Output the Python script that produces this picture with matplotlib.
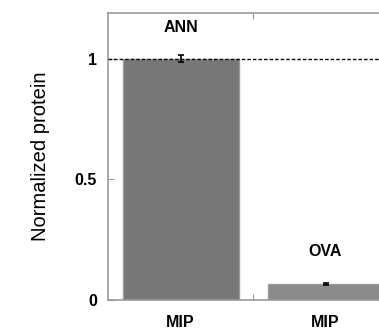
import matplotlib
matplotlib.use("Agg")
import matplotlib.pyplot as plt

groups = ["ANN", "OVA"]
xlabels = ["MIP", "MIP"]
values = [1.0, 0.066]
errors = [0.015, 0.004]

plt.rcParams['font.family'] = ['Liberation Sans', 'DejaVu Sans']

fig = plt.figure(figsize=(3.79, 3.34), dpi=100)
# axes runs past the right edge of the figure, as in the cropped original
ax = fig.add_axes([108/379, 34/334, 290/379, 287/334])

pos = [1, 2]
ax.bar(pos, values, width=0.8, color=['#777777', '#8a8a8a'],
       edgecolor='#9a9a9a', linewidth=1.0, zorder=2)
ax.errorbar(pos, values, yerr=errors, fmt='none', ecolor='black',
            elinewidth=1.2, capsize=2.5, capthick=1.2, zorder=3)
ax.axhline(1.0, color='black', linestyle=(0, (2.5, 1.5)), linewidth=1.0, zorder=4)

for p, g, v in zip(pos, groups, [1.13, 0.2]):
    ax.text(p, v, g, ha='center', va='center', fontsize=11.5, fontweight='bold')

ax.set_xlim(0.5, 2.5)
ax.set_ylim(0, 1.19)
ax.set_xticks([1.5])
ax.set_xticklabels([''])
ax.set_xticks(pos, minor=True)
ax.set_xticklabels(xlabels, minor=True, fontsize=11.5, fontweight='bold')
ax.tick_params(axis='x', which='minor', length=0, pad=11)
ax.tick_params(axis='x', which='major', direction='in', length=4,
               top=True, color='#999999')
ax.set_yticks([0, 0.5, 1])
ax.set_yticklabels(['0', '0.5', '1'], fontsize=11.5, fontweight='bold')
ax.tick_params(axis='y', direction='in', length=4, color='#999999', pad=8)

for s in ax.spines.values():
    s.set_color('#999999')
    s.set_linewidth(1.2)

ax.set_ylabel('Normalized protein', fontsize=14.5, labelpad=18)

fig.savefig('out.png', dpi=100)
